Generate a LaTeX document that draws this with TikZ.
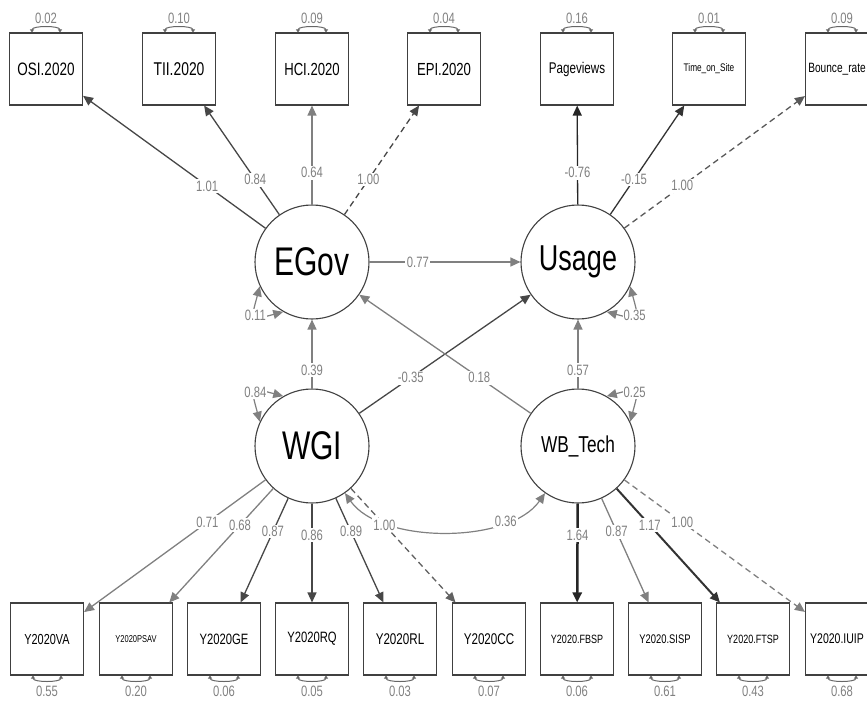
\documentclass[tikz,border=0pt]{standalone}
\usepackage{fontspec}
\usepackage{tikz}
\usetikzlibrary{arrows.meta}
\newfontfamily\semfont[FakeStretch=0.75]{Liberation Sans}
\newcommand{\fsz}[1]{\semfont\fontsize{#1}{#1}\selectfont}
\tikzset{
  lat/.style={circle, draw=black!75, line width=1.1pt, minimum size=114pt, inner sep=0pt},
  ind/.style={rectangle, draw=black!75, line width=1.1pt, minimum width=73pt, minimum height=72pt, inner sep=0pt},
  ldark/.style={->, draw=black!72, line width=1.3pt},
  lmid/.style={->, draw=black!50, line width=1.3pt},
  ldash/.style={dash pattern=on 6pt off 4pt},
  lbl/.style={fill=white, inner sep=1.5pt, text=black!50, font=\fsz{15}, pos=0.32},
  rlbl/.style={text=black!50, font=\fsz{15}, inner sep=1pt},
  resid/.style={<->, draw=black!50, line width=1.2pt, looseness=2.6},
  vres/.style={<->, draw=black!60, line width=1pt, >={Triangle[length=3pt,width=4pt]}}
}

\begin{document}
\begin{tikzpicture}[x=1pt, y=1pt, >={Triangle[length=10pt,width=9pt]}]
	\useasboundingbox (0,0) rectangle (867,-702);
	% latent variables
	\node[lat, font=\fsz{40}] (egov) at (312,-262) {EGov};
	\node[lat, font=\fsz{36}] (usage) at (578,-262) {Usage};
	\node[lat, font=\fsz{40}] (wgi) at (312,-446) {WGI};
	\node[lat, font=\fsz{23}] (wbtech) at (578,-446) {WB\_Tech};
	% indicators, top row
	\node[ind, font=\fsz{18}] (osi) at (46,-69) {OSI.2020};
	\node[ind, font=\fsz{18.5}] (tii) at (179,-69) {TII.2020};
	\node[ind, font=\fsz{17.5}] (hci) at (312,-69) {HCI.2020};
	\node[ind, font=\fsz{17.5}] (epi) at (444,-69) {EPI.2020};
	\node[ind, font=\fsz{15.5}] (pv) at (577,-69) {Pageviews};
	\node[ind, font=\fsz{11}] (tos) at (709,-69) {Time\_on\_Site};
	\node[ind, font=\fsz{13.5}] (bounce) at (842,-69) {Bounce\_rate\hspace*{10pt}};
	% indicators, bottom row
	\node[ind, font=\fsz{14.5}] (va) at (47,-639) {Y2020VA};
	\node[ind, font=\fsz{10}] (psav) at (136,-639) {Y2020PSAV};
	\node[ind, font=\fsz{15}] (ge) at (224,-639) {Y2020GE};
	\node[ind, font=\fsz{15}] (rq) at (312,-639) {Y2020RQ};
	\node[ind, font=\fsz{15.5}] (rl) at (400,-639) {Y2020RL};
	\node[ind, font=\fsz{15.5}] (cc) at (489,-639) {Y2020CC};
	\node[ind, font=\fsz{12}] (fbsp) at (577,-639) {Y2020.FBSP};
	\node[ind, font=\fsz{12.5}] (sisp) at (665,-639) {Y2020.SISP};
	\node[ind, font=\fsz{12}] (ftsp) at (753,-639) {Y2020.FTSP};
	\node[ind, font=\fsz{14}] (iuip) at (842,-639) {Y2020.IUIP\hspace*{10pt}};

	% residual variances of the indicators
	\draw[vres] ([xshift=-14pt]osi.north) .. controls +(0,7) and +(0,7) .. node[rlbl, above=2pt] {0.02} ([xshift=14pt]osi.north);
	\draw[vres] ([xshift=-14pt]tii.north) .. controls +(0,7) and +(0,7) .. node[rlbl, above=2pt] {0.10} ([xshift=14pt]tii.north);
	\draw[vres] ([xshift=-14pt]hci.north) .. controls +(0,7) and +(0,7) .. node[rlbl, above=2pt] {0.09} ([xshift=14pt]hci.north);
	\draw[vres] ([xshift=-14pt]epi.north) .. controls +(0,7) and +(0,7) .. node[rlbl, above=2pt] {0.04} ([xshift=14pt]epi.north);
	\draw[vres] ([xshift=-14pt]pv.north) .. controls +(0,7) and +(0,7) .. node[rlbl, above=2pt] {0.16} ([xshift=14pt]pv.north);
	\draw[vres] ([xshift=-14pt]tos.north) .. controls +(0,7) and +(0,7) .. node[rlbl, above=2pt] {0.01} ([xshift=14pt]tos.north);
	\draw[vres] ([xshift=-14pt]bounce.north) .. controls +(0,7) and +(0,7) .. node[rlbl, above=2pt] {0.09} ([xshift=14pt]bounce.north);
	\draw[vres] ([xshift=-14pt]va.south) .. controls +(0,-7) and +(0,-7) .. node[rlbl, below=4pt] {0.55} ([xshift=14pt]va.south);
	\draw[vres] ([xshift=-14pt]psav.south) .. controls +(0,-7) and +(0,-7) .. node[rlbl, below=4pt] {0.20} ([xshift=14pt]psav.south);
	\draw[vres] ([xshift=-14pt]ge.south) .. controls +(0,-7) and +(0,-7) .. node[rlbl, below=4pt] {0.06} ([xshift=14pt]ge.south);
	\draw[vres] ([xshift=-14pt]rq.south) .. controls +(0,-7) and +(0,-7) .. node[rlbl, below=4pt] {0.05} ([xshift=14pt]rq.south);
	\draw[vres] ([xshift=-14pt]rl.south) .. controls +(0,-7) and +(0,-7) .. node[rlbl, below=4pt] {0.03} ([xshift=14pt]rl.south);
	\draw[vres] ([xshift=-14pt]cc.south) .. controls +(0,-7) and +(0,-7) .. node[rlbl, below=4pt] {0.07} ([xshift=14pt]cc.south);
	\draw[vres] ([xshift=-14pt]fbsp.south) .. controls +(0,-7) and +(0,-7) .. node[rlbl, below=4pt] {0.06} ([xshift=14pt]fbsp.south);
	\draw[vres] ([xshift=-14pt]sisp.south) .. controls +(0,-7) and +(0,-7) .. node[rlbl, below=4pt] {0.61} ([xshift=14pt]sisp.south);
	\draw[vres] ([xshift=-14pt]ftsp.south) .. controls +(0,-7) and +(0,-7) .. node[rlbl, below=4pt] {0.43} ([xshift=14pt]ftsp.south);
	\draw[vres] ([xshift=-14pt]iuip.south) .. controls +(0,-7) and +(0,-7) .. node[rlbl, below=4pt] {0.68} ([xshift=14pt]iuip.south);

	% residual variances of the latents
	\draw[resid] (egov.205) to[out=255, in=195] node[rlbl, fill=white] {0.11} (egov.240);
	\draw[resid] (usage.335) to[out=285, in=345] node[rlbl, fill=white] {0.35} (usage.300);
	\draw[resid] (wgi.155) to[out=105, in=165] node[rlbl, fill=white] {0.84} (wgi.120);
	\draw[resid] (wbtech.25) to[out=75, in=15] node[rlbl, fill=white] {0.25} (wbtech.60);

	% covariance WGI -- WB_Tech
	\draw[<->, draw=black!50, line width=1.2pt] (wgi.-55) to[out=-55, in=-125, looseness=0.8] node[lbl, pos=0.76] {0.36} (wbtech.-125);

	% structural paths
	\draw[lmid] (egov) -- node[lbl] {0.77} (usage);
	\draw[lmid] (wgi) -- node[lbl, pos=0.27] {0.39} (egov);
	\draw[lmid] (wbtech) -- node[lbl, pos=0.27] {0.57} (usage);
	\draw[ldark] (wgi) -- node[lbl, pos=0.3] {-0.35} (usage);
	\draw[lmid] (wbtech) -- node[lbl, pos=0.3] {0.18} (egov);

	% loadings, top
	\draw[ldark] (egov) -- node[lbl] {1.01} (osi);
	\draw[ldark] (egov) -- node[lbl] {0.84} (tii);
	\draw[lmid] (egov) -- node[lbl] {0.64} (hci);
	\draw[ldark, ldash] (egov) -- node[lbl] {1.00} (epi);
	\draw[ldark, draw=black!85] (usage) -- node[lbl] {-0.76} (pv);
	\draw[ldark, draw=black!80] (usage) -- node[lbl] {-0.15} (tos);
	\draw[ldark, ldash, draw=black!65] (usage) -- node[lbl] {1.00} (bounce);
	% loadings, bottom
	\draw[lmid] (wgi) -- node[lbl] {0.71} (va);
	\draw[lmid] (wgi) -- node[lbl] {0.68} (psav);
	\draw[ldark] (wgi) -- node[lbl] {0.87} (ge);
	\draw[ldark] (wgi) -- node[lbl] {0.86} (rq);
	\draw[ldark] (wgi) -- node[lbl] {0.89} (rl);
	\draw[lmid, ldash, draw=black!62] (wgi) -- node[lbl] {1.00} (cc);
	\draw[ldark, draw=black!85, line width=2.5pt] (wbtech) -- node[lbl] {1.64} (fbsp);
	\draw[lmid] (wbtech) -- node[lbl] {0.87} (sisp);
	\draw[ldark, draw=black!80, line width=2pt] (wbtech) -- node[lbl] {1.17} (ftsp);
	\draw[lmid, ldash] (wbtech) -- node[lbl] {1.00} (iuip);
\end{tikzpicture}
\end{document}
